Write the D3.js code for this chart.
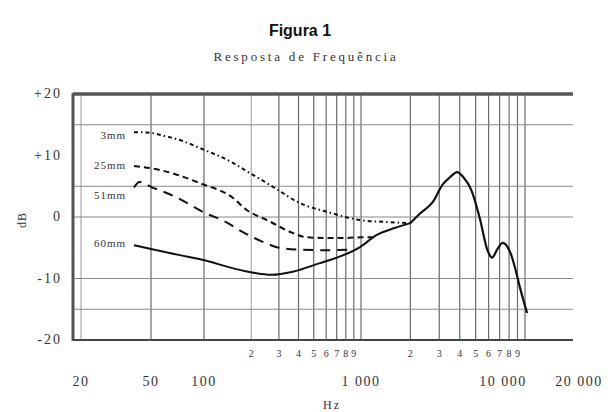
<!DOCTYPE html>
<html>
<head>
<meta charset="utf-8">
<script src="https://cdn.jsdelivr.net/npm/d3@7/dist/d3.min.js"></script>
<style>
	body { margin: 0; background: #fff; }
	svg { display: block; }
	.serif { font-family: "Liberation Serif", "DejaVu Serif", serif; fill: #333; }
</style>
</head>
<body>
<div id="chartId"></div>
<script>
// axis values
var xTickLabels = [20, 50, 100, 1000, 10000, 20000];
var minorDecades = [100, 1000];
var minorDigits = [2, 3, 4, 5, 6, 7, 8, 9];
var yTickValues = [20, 10, 0, -10, -20];
var yTickLabels = ["+20", "+10", "0", "-10", "-20"];
var hGridValues = [15, 5, 0, -10, -15];

// curves, [Hz, dB]
var seriesNames = ["3mm", "25mm", "51mm", "60mm"];
var seriesLabelDb = [13.4, 8.4, 3.6, -4.2];
var curve3mm = [[40, 13.8], [50, 13.7], [57, 13.3], [75, 12.4], [95, 11.2], [153, 8.8], [200, 7.0], [252, 5.5], [300, 4.3], [390, 2.5], [635, 0.7], [985, -0.5], [1400, -0.8], [2000, -1.0]];
var curve25mm = [[40, 8.3], [57, 7.6], [95, 5.5], [153, 3.1], [188, 1.1], [252, -0.5], [368, -2.6], [450, -3.3], [600, -3.4], [800, -3.4], [1000, -3.3], [1180, -3.3]];
var curve51mm = [[40, 4.8], [43, 5.7], [50, 4.9], [71, 3.1], [99, 0.8], [140, -0.9], [170, -2.2], [250, -4.3], [300, -5.0], [400, -5.3], [600, -5.4], [900, -5.3]];
var curve60mm = [[40, -4.6], [50, -5.2], [73, -6.2], [99, -7.0], [169, -8.6], [271, -9.4], [368, -8.9], [548, -7.5], [635, -7.0], [985, -4.9], [1250, -2.9], [1600, -1.8], [2000, -1.0]];
var curveCommon = [[2000, -1.0], [2300, 0.6], [2750, 2.5], [3150, 5.3], [3500, 6.5], [3850, 7.3], [4200, 6.5], [4700, 4.4], [5300, -0.2], [5900, -5.4], [6300, -6.6], [6800, -5.2], [7300, -4.2], [7800, -4.8], [8200, -6.0], [8700, -8.3], [9300, -11.4], [10300, -15.6]];
var seriesDash = ["4,3,1.5,3", "6,4", "10,7", null];

function ResponseChart(){
	var self = this;
	self.width = 613;
	self.height = 412;
	self.curves = [curve3mm, curve25mm, curve51mm, curve60mm];
	self.init();
}

ResponseChart.prototype.init = function(){
	var self = this;
	self.svg = d3.select("#chartId").append("svg")
		.attr("width", self.width)
		.attr("height", self.height);

	self.left = 73;
	self.right = 573;
	self.top = 94;
	self.bottom = 340;

	// the scanned axis is not quite a clean log scale, so it is piecewise
	self.x = d3.scaleLog()
		.domain([18, 100, 1000, 10000, 20000])
		.range([self.left, 204, 361, 525, self.right]);
	self.y = d3.scaleLinear()
		.domain([-20, 20])
		.range([self.bottom, self.top]);

	self.svg.append("text")
		.text("Figura 1")
		.attr("x", 300)
		.attr("y", 36)
		.attr("text-anchor", "middle")
		.style("font-family", "Liberation Sans, Arial, sans-serif")
		.style("font-weight", "bold")
		.style("font-size", "16px")
		.attr("fill", "#111");
	self.svg.append("text")
		.text("Resposta de Frequência")
		.attr("class", "serif")
		.attr("x", 306)
		.attr("y", 61)
		.attr("text-anchor", "middle")
		.style("font-size", "13px")
		.style("letter-spacing", "2.8px");

	self.drawGrid();
	self.drawAxes();
	self.updateVis();
}

ResponseChart.prototype.drawGrid = function(){
	var self = this;
	var vGrid = [20, 50, 100];
	minorDecades.forEach(function(dec){
		minorDigits.forEach(function(m){ vGrid.push(dec * m); });
		vGrid.push(dec * 10);
	});

	self.svg.append("g").selectAll("line")
		.data(vGrid).enter()
		.append("line")
			.attr("x1", function(d){ return self.x(d); })
			.attr("x2", function(d){ return self.x(d); })
			.attr("y1", self.top)
			.attr("y2", self.bottom)
			.attr("stroke", function(d){ return d == 200 || d == 20 ? "#aaa" : "#6a6a6a"; })
			.attr("stroke-width", 1.2);

	self.svg.append("g").selectAll("line")
		.data(hGridValues).enter()
		.append("line")
			.attr("x1", self.left)
			.attr("x2", self.right)
			.attr("y1", function(d){ return self.y(d); })
			.attr("y2", function(d){ return self.y(d); })
			.attr("stroke", "#888")
			.attr("stroke-width", 1.2);

	// frame: thick top and left, bottom line, no right side
	self.svg.append("line")
		.attr("x1", self.left).attr("x2", self.right)
		.attr("y1", self.top).attr("y2", self.top)
		.attr("stroke", "#555").attr("stroke-width", 3.5);
	self.svg.append("line")
		.attr("x1", self.left).attr("x2", self.left)
		.attr("y1", self.top - 1).attr("y2", self.bottom + 1)
		.attr("stroke", "#555").attr("stroke-width", 3);
	self.svg.append("line")
		.attr("x1", self.left).attr("x2", self.right)
		.attr("y1", self.bottom).attr("y2", self.bottom)
		.attr("stroke", "#444").attr("stroke-width", 2);
}

ResponseChart.prototype.drawAxes = function(){
	var self = this;

	self.svg.append("g").selectAll("text")
		.data(yTickValues).enter()
		.append("text")
			.attr("class", "serif")
			.text(function(d, i){ return yTickLabels[i]; })
			.attr("x", 62)
			.attr("y", function(d){ return self.y(d) + 4; })
			.attr("text-anchor", "end")
			.style("font-size", "14px")
			.style("letter-spacing", "2px");

	self.svg.append("g").selectAll("text")
		.data(xTickLabels).enter()
		.append("text")
			.attr("class", "serif")
			.text(function(d){ return d3.format("")(d).replace(/(\d)(\d{3})$/, "$1 $2"); })
			.attr("x", function(d){
				if (d == 10000){ return self.x(d) - 22; }
				if (d == 20000){ return self.x(d) + 6; }
				return self.x(d);
			})
			.attr("y", 386)
			.attr("text-anchor", "middle")
			.style("font-size", "14px")
			.style("letter-spacing", "1.5px");

	var minors = [];
	minorDecades.forEach(function(dec){
		minorDigits.forEach(function(m){ minors.push({v: dec * m, t: m}); });
	});
	self.svg.append("g").selectAll("text")
		.data(minors).enter()
		.append("text")
			.attr("class", "serif")
			.text(function(d){ return d.t; })
			.attr("x", function(d){ return self.x(d.v); })
			.attr("y", 357)
			.attr("text-anchor", "middle")
			.style("font-size", "10px");

	self.svg.append("text")
		.attr("class", "serif")
		.text("Hz")
		.attr("x", 332)
		.attr("y", 409)
		.attr("text-anchor", "middle")
		.style("font-size", "12px")
		.style("letter-spacing", "2px");
	self.svg.append("text")
		.attr("class", "serif")
		.text("dB")
		.attr("transform", "translate(26, 220) rotate(-90)")
		.attr("text-anchor", "middle")
		.style("font-size", "12px")
		.style("letter-spacing", "1px");
}

ResponseChart.prototype.updateVis = function(){
	var self = this;
	var line = d3.line()
		.x(function(d){ return self.x(d[0]); })
		.y(function(d){ return self.y(d[1]); })
		.curve(d3.curveMonotoneX);

	self.svg.append("g").selectAll(".curve")
		.data(self.curves).enter()
		.append("path")
			.attr("class", "curve")
			.attr("d", line)
			.attr("fill", "none")
			.attr("stroke", "#111")
			.attr("stroke-width", 2)
			.attr("stroke-dasharray", function(d, i){ return seriesDash[i]; });

	self.svg.append("path")
		.datum(curveCommon)
		.attr("d", line)
		.attr("fill", "none")
		.attr("stroke", "#111")
		.attr("stroke-width", 2.2);

	self.svg.append("g").selectAll(".series-label")
		.data(seriesNames).enter()
		.append("text")
			.attr("class", "serif series-label")
			.text(function(d){ return d; })
			.attr("x", self.x(40) - 8)
			.attr("y", function(d, i){ return self.y(seriesLabelDb[i]) + 4; })
			.attr("text-anchor", "end")
			.style("font-size", "11px")
			.style("letter-spacing", "1px")
			.attr("fill", "#555");
}

var chart = new ResponseChart();
</script>
</body>
</html>
